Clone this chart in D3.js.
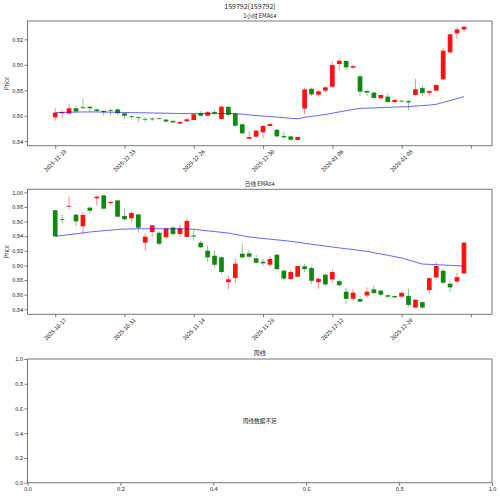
<!DOCTYPE html>
<html>
<head>
<meta charset="utf-8">
<script src="https://cdn.jsdelivr.net/npm/d3@7"></script>
<style>
  body { margin: 0; background: #fff; }
  text { font-family: "Noto Sans CJK SC", "DejaVu Sans", sans-serif; fill: #222; }
</style>
</head>
<body>
<div id="chart"></div>
<script>
// ---- 1 hour candles (60 bars) ----
const hourOpen  = [0.8588,0.8620,0.8617,0.8659,0.8667,0.8671,0.8650,0.8638,0.8645,0.8650,
                   0.8620,0.8598,0.8588,0.8576,0.8578,0.8580,0.8570,0.8560,0.8538,0.8557,
                   0.8567,0.8620,0.8600,0.8630,0.8575,0.8670,0.8617,0.8533,0.8420,0.8436,
                   0.8470,0.8520,0.8490,0.8440,0.8438,0.8410,0.8656,0.8812,0.8765,0.8797,
                   0.8828,0.9006,0.9030,0.8978,0.8910,0.8795,0.8782,0.8737,0.8750,0.8708,
                   0.8718,0.8715,0.8763,0.8817,0.8781,0.8797,0.8886,0.9098,0.9247,0.9278];
const hourHigh  = [0.8659,0.8640,0.8690,0.8677,0.8731,0.8673,0.8652,0.8645,0.8653,0.8655,
                   0.8622,0.8600,0.8600,0.8590,0.8590,0.8583,0.8575,0.8562,0.8555,0.8585,
                   0.8615,0.8638,0.8635,0.8645,0.8678,0.8675,0.8620,0.8540,0.8478,0.8489,
                   0.8528,0.8540,0.8495,0.8475,0.8440,0.8437,0.8820,0.8820,0.8800,0.8832,
                   0.9030,0.9048,0.9035,0.8995,0.8928,0.8802,0.8785,0.8766,0.8775,0.8728,
                   0.8725,0.8724,0.8889,0.8838,0.8800,0.8845,0.9130,0.9247,0.9294,0.9304];
const hourLow   = [0.8559,0.8580,0.8615,0.8624,0.8655,0.8628,0.8632,0.8600,0.8600,0.8605,
                   0.8573,0.8570,0.8550,0.8550,0.8560,0.8573,0.8548,0.8545,0.8535,0.8552,
                   0.8565,0.8595,0.8595,0.8605,0.8572,0.8602,0.8515,0.8455,0.8415,0.8423,
                   0.8425,0.8515,0.8432,0.8424,0.8405,0.8405,0.8612,0.8755,0.8750,0.8781,
                   0.8820,0.8960,0.8957,0.8970,0.8755,0.8755,0.8735,0.8733,0.8703,0.8702,
                   0.8705,0.8643,0.8760,0.8755,0.8750,0.8795,0.8880,0.9090,0.9202,0.9260];
const hourClose = [0.8624,0.8630,0.8659,0.8635,0.8660,0.8659,0.8637,0.8628,0.8641,0.8620,
                   0.8600,0.8592,0.8584,0.8570,0.8574,0.8577,0.8555,0.8548,0.8552,0.8572,
                   0.8612,0.8600,0.8628,0.8620,0.8671,0.8607,0.8522,0.8463,0.8433,0.8483,
                   0.8520,0.8535,0.8438,0.8430,0.8412,0.8433,0.8807,0.8768,0.8792,0.8823,
                   0.8998,0.9032,0.8980,0.8990,0.8789,0.8782,0.8739,0.8763,0.8708,0.8725,
                   0.8712,0.8705,0.8808,0.8778,0.8794,0.8842,0.9111,0.9239,0.9278,0.9299];
const hourEma   = [0.8624,0.8626,0.8628,0.8629,0.8630,0.8630,0.8630,0.8629,0.8628,0.8627,
                   0.8626,0.8625,0.8624,0.8623,0.8622,0.8621,0.8620,0.8619,0.8618,0.8617,
                   0.8617,0.8617,0.8617,0.8617,0.8618,0.8618,0.8617,0.8612,0.8607,0.8602,
                   0.8598,0.8594,0.8590,0.8585,0.8580,0.8576,0.8588,0.8596,0.8603,0.8610,
                   0.8620,0.8630,0.8640,0.8650,0.8658,0.8660,0.8662,0.8664,0.8666,0.8668,
                   0.8670,0.8672,0.8676,0.8680,0.8684,0.8690,0.8705,0.8720,0.8735,0.8750];
const hourTickIdx    = [0, 10, 20, 30, 40, 50, 60];
const hourTickLabels = ["2025-12-19","2025-12-23","2025-12-26","2025-12-30","2026-01-06","2026-01-08",""];
const hourYTicks     = [0.84, 0.86, 0.88, 0.90, 0.92];

// ---- daily candles (60 bars) ----
const dayOpen  = [0.9754,0.9634,0.9805,0.9694,0.9535,0.9790,0.9918,0.9958,0.9855,0.9890,
                  0.9676,0.9645,0.9699,0.9311,0.9457,0.9447,0.9385,0.9518,0.9430,0.9390,
                  0.9410,0.9311,0.9201,0.9133,0.9111,0.8773,0.8828,0.9161,0.9166,0.9097,
                  0.9051,0.9010,0.9146,0.8928,0.8815,0.8846,0.8988,0.8965,0.8772,0.8873,
                  0.8810,0.8785,0.8641,0.8545,0.8540,0.8590,0.8673,0.8655,0.8592,0.8582,
                  0.8573,0.8584,0.8424,0.8498,0.8664,0.8836,0.8928,0.8750,0.8781,0.8892];
const dayHigh  = [0.9756,0.9700,0.9940,0.9707,0.9730,0.9805,0.9958,0.9960,0.9872,0.9892,
                  0.9770,0.9740,0.9702,0.9440,0.9553,0.9467,0.9510,0.9540,0.9555,0.9648,
                  0.9490,0.9338,0.9275,0.9201,0.9125,0.8860,0.9092,0.9297,0.9215,0.9150,
                  0.9092,0.9124,0.9160,0.8945,0.8935,0.8995,0.9020,0.8990,0.8840,0.8897,
                  0.8950,0.8812,0.8692,0.8678,0.8578,0.8700,0.8732,0.8664,0.8605,0.8590,
                  0.8650,0.8680,0.8540,0.8508,0.8837,0.9050,0.8947,0.8790,0.8893,0.9320];
const dayLow   = [0.9395,0.9578,0.9765,0.9540,0.9420,0.9710,0.9822,0.9770,0.9822,0.9663,
                  0.9617,0.9590,0.9448,0.9201,0.9393,0.9275,0.9362,0.9405,0.9385,0.9385,
                  0.9340,0.9234,0.9047,0.8974,0.8885,0.8668,0.8760,0.9092,0.9088,0.9024,
                  0.8997,0.8983,0.8935,0.8790,0.8795,0.8840,0.8910,0.8750,0.8680,0.8722,
                  0.8755,0.8715,0.8478,0.8523,0.8500,0.8558,0.8596,0.8572,0.8550,0.8555,
                  0.8565,0.8438,0.8418,0.8408,0.8613,0.8826,0.8742,0.8640,0.8750,0.8885];
const dayClose = [0.9398,0.9630,0.9815,0.9603,0.9690,0.9748,0.9940,0.9776,0.9870,0.9666,
                  0.9631,0.9717,0.9516,0.9393,0.9549,0.9297,0.9505,0.9430,0.9508,0.9608,
                  0.9395,0.9248,0.9111,0.9010,0.8910,0.8810,0.9024,0.9111,0.9119,0.9037,
                  0.9029,0.9088,0.8950,0.8820,0.8910,0.8992,0.8950,0.8790,0.8818,0.8740,
                  0.8910,0.8730,0.8543,0.8627,0.8505,0.8641,0.8623,0.8600,0.8573,0.8565,
                  0.8625,0.8460,0.8532,0.8424,0.8826,0.8992,0.8764,0.8700,0.8840,0.9311];
const dayEma   = [0.9398,0.9410,0.9422,0.9433,0.9445,0.9457,0.9466,0.9475,0.9483,0.9491,
                  0.9497,0.9499,0.9501,0.9502,0.9502,0.9502,0.9501,0.9500,0.9499,0.9497,
                  0.9494,0.9484,0.9473,0.9463,0.9453,0.9443,0.9425,0.9407,0.9389,0.9379,
                  0.9369,0.9359,0.9350,0.9340,0.9330,0.9317,0.9304,0.9291,0.9278,0.9265,
                  0.9252,0.9240,0.9228,0.9217,0.9205,0.9193,0.9175,0.9157,0.9139,0.9121,
                  0.9102,0.9074,0.9047,0.9019,0.9015,0.9010,0.9006,0.9001,0.8997,0.8992];
const dayTickIdx    = [0, 10, 20, 30, 40, 50, 60];
const dayTickLabels = ["2025-10-17","2025-10-31","2025-11-14","2025-11-28","2025-12-12","2025-12-26",""];
const dayYTicks     = [0.84, 0.86, 0.88, 0.90, 0.92, 0.94, 0.96, 0.98, 1.00];

// ---- weekly panel (empty) ----
const weekTicks = [0, 0.2, 0.4, 0.6, 0.8, 1.0];

const W = 500, H = 496;
const left = 27.5, right = 492;
const UP = "#ff0000", DOWN = "#008000", FRAME = "#777";

const svg = d3.select("#chart").append("svg")
    .attr("width", W).attr("height", H)
    .style("background", "#fff");

function toRows(o, h, l, c, ema) {
    return o.map((d, i) => ({i: i, o: d, h: h[i], l: l[i], c: c[i], e: ema[i]}));
}

function styleAxis(g) {
    g.select(".domain").remove();
    g.selectAll(".tick line").attr("stroke", FRAME);
    g.selectAll(".tick text").style("font-size", "5.6px").attr("fill", "#222");
}

function drawCandlePanel(opts) {
    const top = opts.top, bottom = opts.bottom;
    const x = d3.scaleLinear().domain([-4, 63.05]).range([left, right]);
    const y = d3.scaleLinear().domain(opts.yDomain).range([bottom, top]);
    const g = svg.append("g");

    // y axis
    g.append("g")
        .attr("transform", "translate(" + left + ",0)")
        .call(d3.axisLeft(y).tickValues(opts.yTicks).tickFormat(d3.format(".2f")).tickSize(3).tickPadding(1.5))
        .call(styleAxis);

    // x axis, dates rotated 45deg
    g.append("g")
        .attr("transform", "translate(0," + bottom + ")")
        .call(d3.axisBottom(x).tickValues(opts.tickIdx).tickFormat("").tickSize(3))
        .call(styleAxis);
    g.selectAll("text.date")
        .data(opts.tickIdx)
        .enter()
        .append("text")
        .attr("class", "date")
        .attr("text-anchor", "middle")
        .attr("dominant-baseline", "central")
        .attr("transform", d => "translate(" + x(d) + "," + (bottom + 15) + ")rotate(-45)")
        .style("font-size", "5.6px")
        .text((d, k) => opts.tickLabels[k]);

    const rows = opts.rows;
    const bw = x(0.68) - x(0);

    // wicks
    g.selectAll("line.wick")
        .data(rows)
        .enter()
        .append("line")
        .attr("x1", d => x(d.i)).attr("x2", d => x(d.i))
        .attr("y1", d => y(d.h)).attr("y2", d => y(d.l))
        .attr("stroke", d => d.c >= d.o ? UP : DOWN)
        .attr("stroke-opacity", 0.45)
        .attr("stroke-width", 1);

    // bodies
    g.selectAll("rect.body")
        .data(rows)
        .enter()
        .append("rect")
        .attr("x", d => x(d.i) - bw / 2)
        .attr("y", d => y(Math.max(d.o, d.c)))
        .attr("width", bw)
        .attr("height", d => Math.max(0.8, Math.abs(y(d.o) - y(d.c))))
        .attr("fill", d => d.c >= d.o ? UP : DOWN)
        .attr("fill-opacity", 0.92);

    // EMA64
    g.append("path")
        .datum(rows)
        .attr("fill", "none")
        .attr("stroke", "blue")
        .attr("stroke-opacity", 0.6)
        .attr("stroke-width", 1)
        .attr("d", d3.line().x(d => x(d.i)).y(d => y(d.e)));

    // frame
    g.append("rect")
        .attr("x", left).attr("y", top)
        .attr("width", right - left).attr("height", bottom - top)
        .attr("fill", "none").attr("stroke", FRAME).attr("stroke-width", 1);

    g.append("text")
        .attr("x", (left + right) / 2).attr("y", top - 3.5)
        .attr("text-anchor", "middle")
        .style("font-size", "5.6px")
        .text(opts.title);

    g.append("text")
        .attr("transform", "translate(7," + ((top + bottom) / 2) + ")rotate(-90)")
        .attr("text-anchor", "middle")
        .attr("dominant-baseline", "central")
        .style("font-size", "5.6px")
        .text("Price");
}

// super title
svg.append("text")
    .attr("x", 250).attr("y", 8.6)
    .attr("text-anchor", "middle")
    .style("font-size", "7px")
    .text("159792(159792)");

drawCandlePanel({
    top: 21, bottom: 145.7,
    yDomain: [0.8365, 0.9344], yTicks: hourYTicks,
    tickIdx: hourTickIdx, tickLabels: hourTickLabels,
    rows: toRows(hourOpen, hourHigh, hourLow, hourClose, hourEma),
    title: "1小时 EMA64"
});

drawCandlePanel({
    top: 189.3, bottom: 314.3,
    yDomain: [0.8332, 1.0041], yTicks: dayYTicks,
    tickIdx: dayTickIdx, tickLabels: dayTickLabels,
    rows: toRows(dayOpen, dayHigh, dayLow, dayClose, dayEma),
    title: "日线 EMA64"
});

// weekly panel: not enough data
(function drawWeekly() {
    const top = 359, bottom = 482.7;
    const x = d3.scaleLinear().domain([0, 1]).range([left, right]);
    const y = d3.scaleLinear().domain([0, 1]).range([bottom, top]);
    const g = svg.append("g");
    g.append("g")
        .attr("transform", "translate(" + left + ",0)")
        .call(d3.axisLeft(y).tickValues(weekTicks).tickFormat(d3.format(".1f")).tickSize(3).tickPadding(1.5))
        .call(styleAxis);
    g.append("g")
        .attr("transform", "translate(0," + bottom + ")")
        .call(d3.axisBottom(x).tickValues(weekTicks).tickFormat(d3.format(".1f")).tickSize(3).tickPadding(1))
        .call(styleAxis);
    g.append("rect")
        .attr("x", left).attr("y", top)
        .attr("width", right - left).attr("height", bottom - top)
        .attr("fill", "none").attr("stroke", FRAME).attr("stroke-width", 1);
    g.append("text")
        .attr("x", (left + right) / 2).attr("y", top - 4)
        .attr("text-anchor", "middle")
        .style("font-size", "6.2px")
        .text("周线");
    g.append("text")
        .attr("x", x(0.5)).attr("y", y(0.5))
        .attr("text-anchor", "middle")
        .attr("dominant-baseline", "central")
        .style("font-size", "5.7px")
        .text("周线数据不足");
})();
</script>
</body>
</html>
